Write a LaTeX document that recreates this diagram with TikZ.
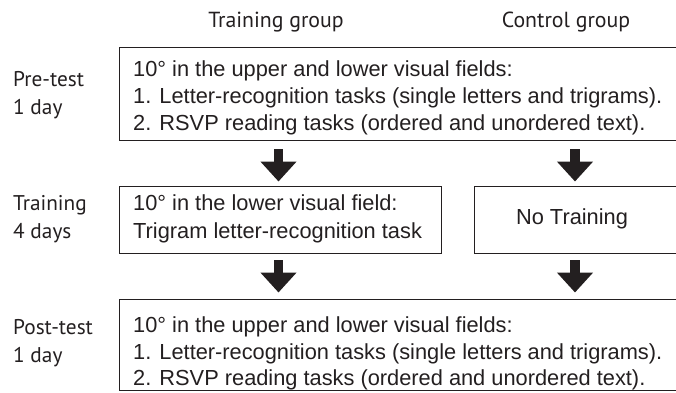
\documentclass[tikz,border=0pt]{standalone}
\usepackage{fontspec}
\setmainfont{Liberation Sans}
\newfontfamily\labfont{PT Sans}
\usetikzlibrary{arrows.meta}
\definecolor{ink}{HTML}{231F20}
\tikzset{
  box/.style={draw=ink, line width=1.4pt, inner sep=0pt, anchor=north west},
  txt/.style={inner sep=0pt, anchor=base west, text=ink, font=\fontsize{21.8}{24}\selectfont},
  lab/.style={inner sep=0pt, anchor=base west, text=ink, font=\labfont\fontsize{21.3}{24}\selectfont},
  head/.style={inner sep=0pt, anchor=base, text=ink, font=\labfont\fontsize{21.8}{24}\selectfont},
  fat/.style={draw=ink, line width=9.5pt, -{Triangle[width=35pt,length=20pt]}, shorten >=0pt}
}
\begin{document}
\begin{tikzpicture}[x=1pt,y=-1pt]
\useasboundingbox (0,0) rectangle (676,392);
\clip (0,0) rectangle (676,392);
% column heads
\node[head] (hTrain) at (276,27) {Training group};
\node[head] (hCtrl) at (566,27) {Control group};
% row labels
\node[lab] (l1a) at (13,86) {Pre-test};
\node[lab] (l1b) at (13,114) {1 day};
\node[lab] (l2a) at (13,210) {Training};
\node[lab] (l2b) at (13,238) {4 days};
\node[lab] (l3a) at (13,334) {Post-test};
\node[lab] (l3b) at (13,362) {1 day};
% boxes
\node[box, minimum width=600pt, minimum height=93pt] (pre) at (119,47) {};
\node[box, minimum width=322pt, minimum height=67pt] (train) at (119,186) {};
\node[box, minimum width=250pt, minimum height=67pt] (none) at (474,186) {};
\node[box, minimum width=600pt, minimum height=91pt] (post) at (119,299) {};
% box texts
\node[txt] (p1) at (133,76) {10° in the upper and lower visual fields:};
\node[txt] (p2) at (133,103) {1. Letter-recognition tasks (single letters and trigrams).};
\node[txt] (p3) at (133,130) {2. RSVP reading tasks (ordered and unordered text).};
\node[txt] (t1) at (133,210) {10° in the lower visual field:};
\node[txt] (t2) at (133,238) {Trigram letter-recognition task};
\node[txt, anchor=base] (n1) at (572,224) {No Training};
\node[txt] (q1) at (133,332) {10° in the upper and lower visual fields:};
\node[txt] (q2) at (133,359) {1. Letter-recognition tasks (single letters and trigrams).};
\node[txt] (q3) at (133,385) {2. RSVP reading tasks (ordered and unordered text).};
% arrows
\coordinate (a1s) at (278.5,149);
\coordinate (a1e) at (278.5,181.5);
\coordinate (a2s) at (575,149);
\coordinate (a2e) at (575,181.5);
\coordinate (a3s) at (278.5,260);
\coordinate (a3e) at (278.5,292.5);
\coordinate (a4s) at (575,260);
\coordinate (a4e) at (575,292.5);
\draw[fat] (a1s) -- (a1e);
\draw[fat] (a2s) -- (a2e);
\draw[fat] (a3s) -- (a3e);
\draw[fat] (a4s) -- (a4e);
\end{tikzpicture}
\end{document}
